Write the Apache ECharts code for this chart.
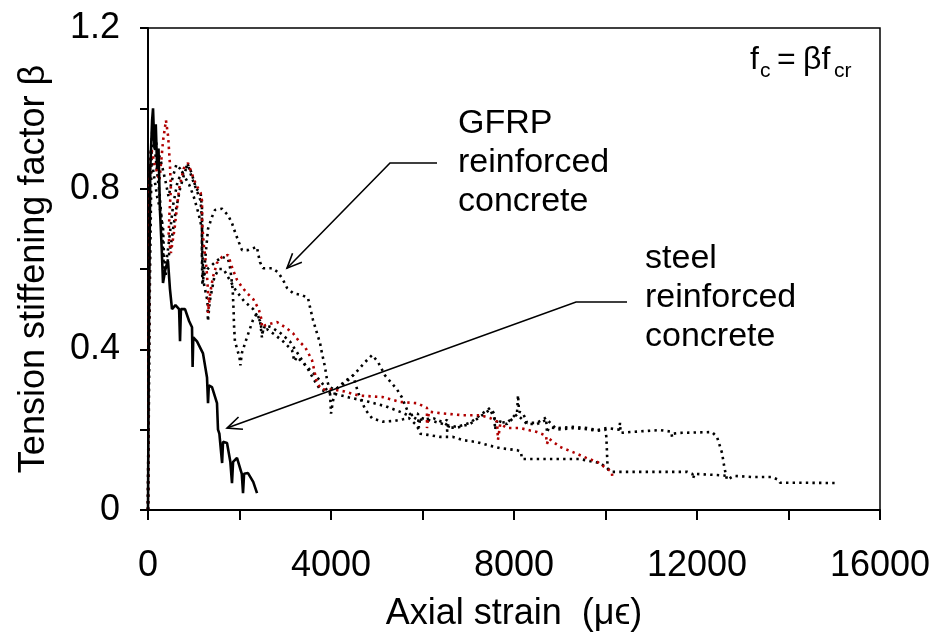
<!DOCTYPE html>
<html>
<head>
<meta charset="utf-8">
<script src="https://cdn.jsdelivr.net/npm/echarts@6/dist/echarts.min.js"></script>
<style>
  html, body { margin: 0; padding: 0; background: #fff; }
  #chart { width: 936px; height: 632px; }
</style>
</head>
<body>
<div id="chart"></div>
<script>
// axial strain (µε) vs tension stiffening factor β
const steel = [[0,0],[20,0.45],[50,0.85],[90,0.97],[110,1.0],[140,0.9],[170,0.96],[200,0.85],[230,0.9],[260,0.75],[300,0.65],[328,0.565],[380,0.6],[437,0.62],[480,0.55],[525,0.5],[600,0.51],[680,0.5],[700,0.42],[720,0.5],[809,0.5],[900,0.47],[962,0.455],[975,0.356],[990,0.43],[1071,0.42],[1202,0.39],[1290,0.33],[1312,0.266],[1330,0.31],[1399,0.306],[1508,0.266],[1530,0.2],[1560,0.19],[1620,0.117],[1640,0.17],[1727,0.167],[1800,0.12],[1836,0.067],[1860,0.12],[1945,0.13],[2050,0.09],[2077,0.042],[2100,0.09],[2186,0.092],[2300,0.07],[2383,0.042]];

const gfrpRed = [[0,0],[20,0.45],[40,0.82],[70,0.9],[150,0.86],[250,0.82],[330,0.92],[393,0.97],[440,0.93],[480,0.86],[500,0.8],[470,0.74],[450,0.68],[500,0.64],[580,0.7],[680,0.8],[780,0.85],[874,0.864],[950,0.84],[1050,0.81],[1150,0.79],[1180,0.77],[1185,0.71],[1220,0.66],[1280,0.6],[1320,0.53],[1312,0.49],[1360,0.54],[1420,0.58],[1508,0.615],[1618,0.63],[1749,0.635],[1850,0.6],[1945,0.573],[2055,0.555],[2164,0.54],[2300,0.525],[2420,0.5],[2480,0.475],[2492,0.455],[2560,0.46],[2820,0.468],[3000,0.455],[3170,0.44],[3300,0.42],[3432,0.406],[3585,0.373],[3694,0.316],[3760,0.306],[3803,0.3],[4044,0.3],[4300,0.295],[4600,0.285],[5137,0.281],[5508,0.269],[5880,0.266],[6098,0.254],[6098,0.204],[6140,0.245],[6383,0.241],[6886,0.236],[7257,0.236],[7476,0.229],[7630,0.22],[7650,0.175],[7700,0.215],[7847,0.204],[8131,0.204],[8503,0.194],[8700,0.185],[8722,0.165],[8760,0.178],[9006,0.157],[9290,0.144],[9596,0.129],[9836,0.119],[10000,0.105],[10140,0.095],[10150,0.078]];

const gfrpA = [[0,0],[40,0.55],[80,0.9],[130,0.95],[200,0.9],[300,0.86],[380,0.82],[450,0.78],[520,0.82],[620,0.86],[700,0.85],[800,0.83],[900,0.81],[1000,0.78],[1100,0.74],[1180,0.7],[1180,0.62],[1190,0.56],[1230,0.6],[1312,0.7],[1400,0.73],[1465,0.747],[1618,0.75],[1749,0.734],[1836,0.714],[1902,0.692],[1967,0.672],[2055,0.647],[2186,0.647],[2383,0.655],[2404,0.64],[2448,0.617],[2514,0.602],[2710,0.602],[2842,0.592],[2951,0.573],[3039,0.553],[3170,0.54],[3366,0.535],[3497,0.528],[3541,0.505],[3607,0.473],[3694,0.44],[3760,0.416],[3803,0.39],[3869,0.356],[3913,0.324],[3956,0.306],[4088,0.3],[4306,0.316],[4525,0.34],[4743,0.368],[4900,0.386],[5030,0.368],[5180,0.335],[5333,0.315],[5443,0.3],[5552,0.28],[5683,0.244],[5792,0.232],[5902,0.224],[6050,0.226],[6250,0.228],[6450,0.218],[6535,0.212],[6540,0.195],[6580,0.21],[6754,0.207],[7038,0.217],[7257,0.236],[7476,0.254],[7570,0.24],[7585,0.2],[7620,0.22],[7847,0.217],[8066,0.241],[8088,0.286],[8110,0.245],[8197,0.241],[8285,0.217],[8503,0.217],[8700,0.23],[8722,0.192],[8760,0.205],[8940,0.204],[9290,0.207],[9596,0.204],[9815,0.199],[10033,0.204],[10300,0.2],[10317,0.217],[10330,0.192],[10536,0.194],[11191,0.199],[11440,0.195],[11454,0.182],[11480,0.19],[11629,0.192],[12328,0.194],[12437,0.182],[12547,0.142],[12600,0.105],[12656,0.075],[12800,0.085],[13224,0.082],[13640,0.082],[13780,0.075],[13814,0.068],[14200,0.068],[15082,0.067]];

const gfrpB = [[0,0],[25,0.5],[50,0.85],[100,0.96],[150,0.9],[200,0.84],[250,0.79],[300,0.72],[330,0.64],[350,0.6],[380,0.58],[430,0.62],[500,0.66],[600,0.74],[700,0.8],[800,0.84],[870,0.86],[950,0.84],[1050,0.8],[1150,0.79],[1180,0.75],[1180,0.64],[1200,0.58],[1300,0.6],[1400,0.61],[1500,0.62],[1618,0.63],[1750,0.625],[1800,0.6],[1850,0.55],[1870,0.5],[1880,0.46],[1900,0.42],[1950,0.4],[2000,0.38],[2020,0.36],[2050,0.39],[2164,0.43],[2295,0.473],[2383,0.49],[2450,0.47],[2490,0.43],[2520,0.45],[2600,0.45],[2776,0.436],[2950,0.42],[3148,0.398],[3200,0.37],[3257,0.381],[3388,0.366],[3541,0.349],[3694,0.331],[3803,0.316],[3900,0.3],[3980,0.29],[4000,0.24],[4040,0.27],[4100,0.3],[4300,0.32],[4480,0.335],[4600,0.29],[4750,0.25],[4900,0.228],[5137,0.22],[5400,0.222],[5574,0.226],[5700,0.229],[5880,0.21],[5950,0.19],[6120,0.187],[6383,0.182],[6667,0.182],[6886,0.174],[7192,0.169],[7410,0.162],[7694,0.154],[8066,0.149],[8150,0.145],[8175,0.127],[8416,0.127],[9072,0.127],[9443,0.127],[9727,0.12],[9880,0.117],[10143,0.095],[10317,0.095],[11344,0.095],[11781,0.095],[11900,0.09],[11912,0.078],[11950,0.09],[12437,0.087],[12650,0.085]];

const gfrpC = [[0,0],[15,0.4],[30,0.75],[60,0.9],[120,0.84],[200,0.78],[280,0.74],[330,0.7],[350,0.63],[380,0.6],[450,0.66],[550,0.76],[650,0.82],[750,0.84],[874,0.86],[950,0.83],[1050,0.8],[1150,0.77],[1180,0.72],[1190,0.64],[1210,0.57],[1300,0.52],[1310,0.47],[1350,0.52],[1450,0.58],[1550,0.6],[1650,0.6],[1750,0.58],[1900,0.55],[2100,0.52],[2300,0.5],[2450,0.47],[2500,0.44],[2560,0.46],[2700,0.455],[2900,0.44],[3100,0.42],[3300,0.385],[3500,0.35],[3650,0.32],[3760,0.3],[3900,0.295],[4050,0.29],[4400,0.28],[4800,0.27],[5200,0.258],[5500,0.245],[5700,0.235],[5900,0.24],[5920,0.205],[5950,0.23],[6200,0.222],[6450,0.214],[6535,0.225],[6560,0.205],[6754,0.205],[7038,0.214],[7257,0.232],[7476,0.25],[7585,0.225],[7847,0.214],[8066,0.238],[8285,0.214],[8503,0.214],[8722,0.225],[8940,0.2],[9290,0.204],[9596,0.201],[9815,0.197],[10000,0.2],[10020,0.18],[10030,0.15],[10040,0.12],[10060,0.1],[10143,0.096]];

// annotation anchors in data units: [text end, elbow, arrow tip]
const gfrpArrow = [[6317,0.864],[5290,0.864],[3038,0.602]];
const steelArrow = [[10470,0.518],[9356,0.518],[1727,0.204]];
const gfrpLabelAt = [6777, 0.866];
const steelLabelAt = [10864, 0.528];
const gfrpLabel = 'GFRP\nreinforced\nconcrete';
const steelLabel = 'steel\nreinforced\nconcrete';

const FONT = '"Liberation Sans", Arial, Helvetica, sans-serif';

const chart = echarts.init(document.getElementById('chart'));

const dotted = (data, color) => ({
  type: 'line',
  data: data,
  showSymbol: false,
  symbol: 'none',
  animation: false,
  lineStyle: { color: color, width: 2.6, type: [2.4, 4.2] }
});

chart.setOption({
  animation: false,
  grid: {
    left: 148, right: 56, top: 28, bottom: 122,
    outerBoundsMode: 'none',
    show: true, borderColor: '#000', borderWidth: 1.5
  },
  xAxis: {
    type: 'value',
    min: 0,
    max: 16000,
    interval: 2000,
    name: 'Axial strain  (\u03bc\u03f5)',
    nameLocation: 'middle',
    nameGap: 86,
    nameTextStyle: { fontSize: 36, color: '#000', fontFamily: FONT },
    axisLine: { lineStyle: { color: '#000', width: 2 } },
    axisTick: { length: 10, lineStyle: { color: '#000', width: 2 } },
    axisLabel: {
      fontSize: 36, color: '#000', fontFamily: FONT, margin: 38,
      formatter: v => (v % 4000 === 0 ? String(v) : '')
    },
    splitLine: { show: false }
  },
  yAxis: {
    type: 'value',
    min: 0,
    max: 1.2,
    interval: 0.2,
    name: 'Tension stiffening factor \u03b2',
    nameLocation: 'middle',
    nameGap: 96,
    nameTextStyle: { fontSize: 36, color: '#000', fontFamily: FONT },
    axisLine: { lineStyle: { color: '#000', width: 2 } },
    axisTick: { length: 8, lineStyle: { color: '#000', width: 2 } },
    axisLabel: {
      fontSize: 36, color: '#000', fontFamily: FONT, margin: 28,
      formatter: v => {
        const t = Math.round(v * 10);
        if (t % 4 !== 0) return '';
        return t === 0 ? '0' : (t / 10).toFixed(1);
      }
    },
    splitLine: { show: false }
  },
  series: [
    dotted(gfrpA, '#000'),
    dotted(gfrpB, '#000'),
    dotted(gfrpC, '#000'),
    dotted(gfrpRed, '#b00000'),
    {
      type: 'line',
      data: steel,
      showSymbol: false,
      symbol: 'none',
      lineStyle: { color: '#000', width: 2.6 }
    }
  ]
});

// arrows and labels, placed through the grid's own scales
const toPx = p => chart.convertToPixel({ gridIndex: 0 }, p);

function arrow(pts) {
  const px = pts.map(toPx);
  const tip = px[px.length - 1];
  const prev = px[px.length - 2];
  const ang = Math.atan2(prev[1] - tip[1], prev[0] - tip[0]);
  const len = 16, spread = 0.42;
  const h1 = [tip[0] + len * Math.cos(ang + spread), tip[1] + len * Math.sin(ang + spread)];
  const h2 = [tip[0] + len * Math.cos(ang - spread), tip[1] + len * Math.sin(ang - spread)];
  return [
    { type: 'polyline', shape: { points: px }, style: { stroke: '#000', lineWidth: 1.6, fill: null }, z: 10 },
    { type: 'polyline', shape: { points: [h1, tip, h2] }, style: { stroke: '#000', lineWidth: 1.6, fill: null }, z: 10 }
  ];
}

function label(at, text) {
  const p = toPx(at);
  return {
    type: 'text', x: p[0], y: p[1], z: 10,
    style: { text: text, font: '34px ' + FONT, fill: '#000', lineHeight: 39, verticalAlign: 'middle', align: 'left' }
  };
}

function formulaPart(x, y, text, size) {
  return {
    type: 'text', x: x, y: y, z: 10,
    style: { text: text, font: size + 'px ' + FONT, fill: '#000', verticalAlign: 'middle', align: 'left' }
  };
}

chart.setOption({
  graphic: [
    ...arrow(gfrpArrow),
    ...arrow(steelArrow),
    label(gfrpLabelAt, gfrpLabel),
    label(steelLabelAt, steelLabel),
    formulaPart(750, 60, 'f', 32),
    formulaPart(760, 71, 'c', 21),
    formulaPart(777, 60, '=', 32),
    formulaPart(803, 60, '\u03b2f', 32),
    formulaPart(834, 71, 'cr', 21)
  ]
});
</script>
</body>
</html>
